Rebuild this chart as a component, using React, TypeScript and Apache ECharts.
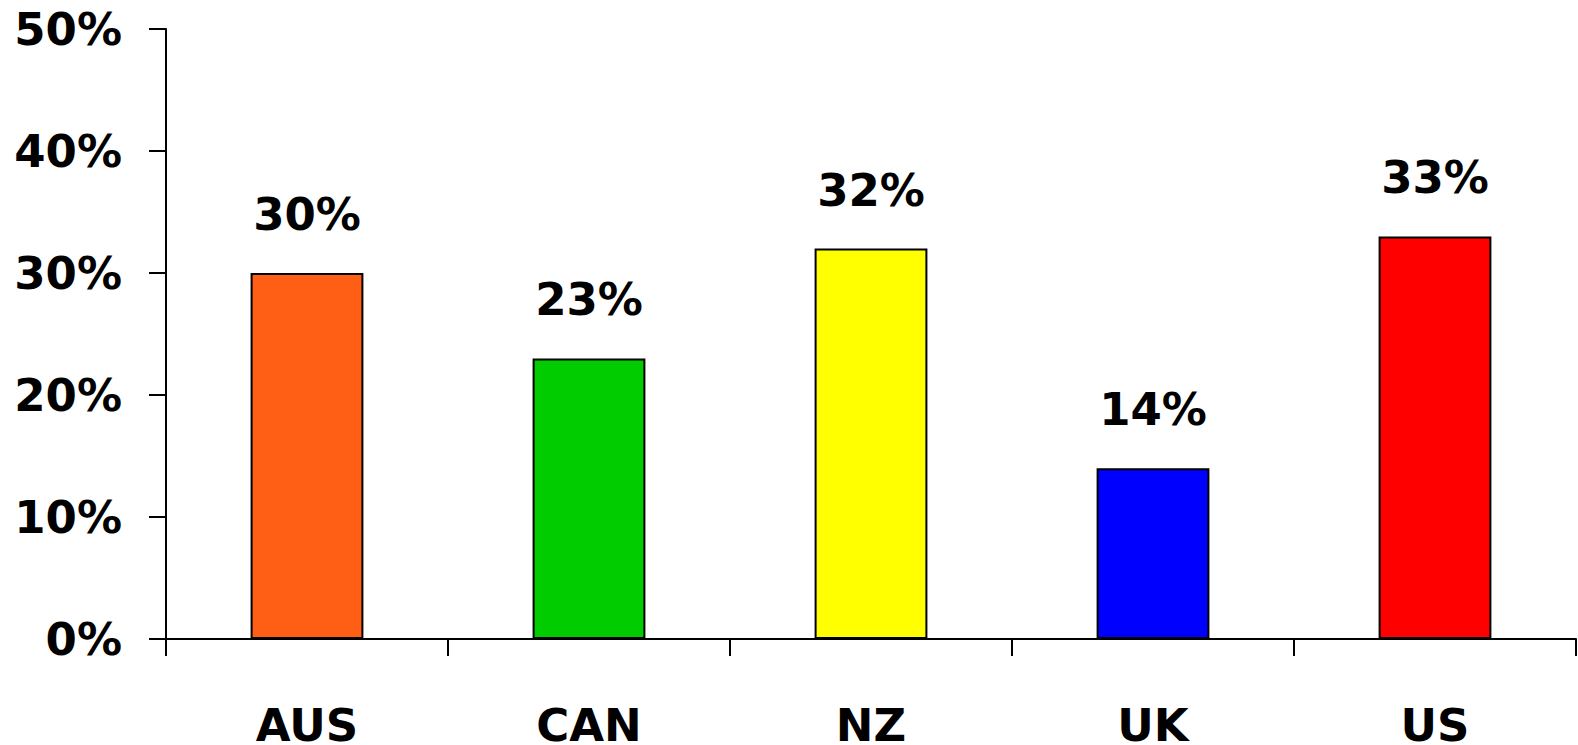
import React, { useEffect, useRef } from "react";
import * as echarts from "echarts";

const categories = ["AUS", "CAN", "NZ", "UK", "US"];
const values = [30, 23, 32, 14, 33];
const barColors = ["#FF5F15", "#00CC00", "#FFFF00", "#0000FF", "#FF0000"];
const yTicks = [0, 10, 20, 30, 40, 50];

export default function App() {
  const ref = useRef<HTMLDivElement>(null);
  useEffect(() => {
    if (!ref.current) return;
    const chart = echarts.init(ref.current, null, { renderer: "svg" });
    const font = { fontFamily: "DejaVu Sans", fontWeight: "bold" as const, fontSize: 45, color: "#000" };
    chart.setOption({
      animation: false,
      backgroundColor: "#fff",
      grid: {
        left: 166,
        right: 2,
        top: 29,
        bottom: 106,
        containLabel: false,
        outerBoundsMode: "none",
      },
      xAxis: {
        type: "category",
        data: categories,
        boundaryGap: true,
        axisLine: { lineStyle: { color: "#000", width: 2 } },
        axisTick: { show: true, length: 17, inside: false, lineStyle: { color: "#000", width: 2 } },
        axisLabel: { ...font, margin: 64 },
      },
      yAxis: {
        type: "value",
        min: yTicks[0],
        max: yTicks[yTicks.length - 1],
        interval: 10,
        splitLine: { show: false },
        axisLine: { show: true, lineStyle: { color: "#000", width: 2 } },
        axisTick: { show: true, length: 17, inside: false, lineStyle: { color: "#000", width: 2 } },
        axisLabel: { ...font, margin: 44, formatter: (v: number) => v + "%" },
      },
      series: [
        {
          type: "bar",
          barWidth: "40%",
          data: values.map((v, i) => ({
            value: v,
            itemStyle: { color: barColors[i], borderColor: "#000", borderWidth: 2 },
          })),
          label: {
            show: true,
            position: "top",
            distance: 36,
            ...font,
            formatter: (p: any) => p.value + "%",
          },
        },
      ],
    });
    return () => chart.dispose();
  }, []);
  return (
    <div
      ref={ref}
      style={{ position: "fixed", left: 0, top: 0, width: "100vw", height: "100vh", background: "#fff" }}
    />
  );
}
